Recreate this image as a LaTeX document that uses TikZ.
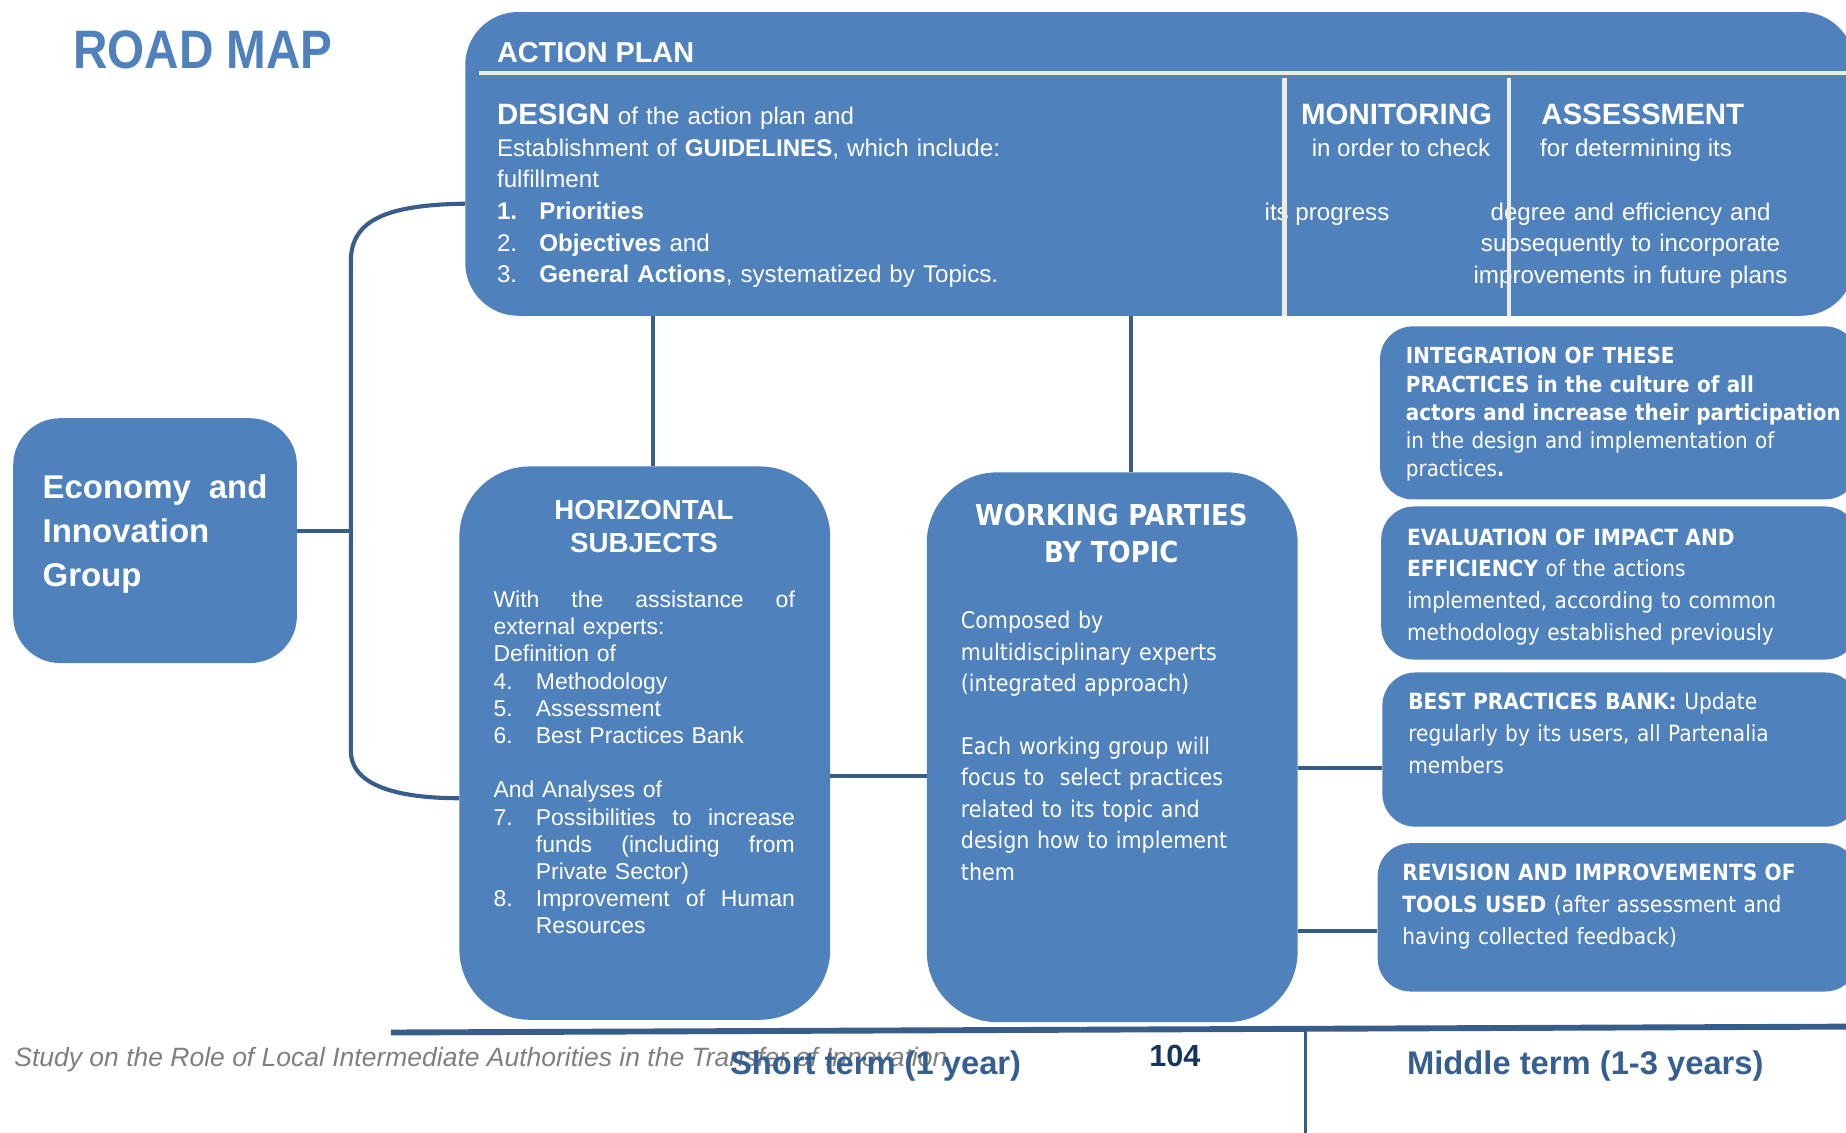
\documentclass[tikz,border=0pt]{standalone}
\usepackage{fontspec}
\setmainfont{Liberation Sans}
\newfontfamily\gothic[FakeStretch=0.9]{DejaVu Sans}
\newfontfamily\narrowsans[FakeStretch=0.88]{Liberation Sans}
\usepackage{tikz}

\definecolor{boxblue}{RGB}{79,129,189}
\definecolor{lineblue}{RGB}{56,93,138}
\definecolor{cream}{RGB}{238,236,225}
\definecolor{termblue}{RGB}{54,95,145}
\definecolor{navy}{RGB}{23,54,93}
\definecolor{footgray}{RGB}{127,127,127}

\newcommand{\setfsz}[2]{\fontsize{#1}{#2}\selectfont}

\tikzset{
  panel/.style={fill=boxblue, inner sep=0pt, anchor=north west},
  conn/.style={draw=lineblue, line width=3.5pt},
  divider/.style={draw=cream, line width=3.5pt},
  txt/.style={anchor=base west, inner sep=0pt, text=white, align=left},
}

\begin{document}
\begin{tikzpicture}[x=1pt,y=-1pt]
\useasboundingbox (0,0) rectangle (1568,962);
\clip (0,0) rectangle (1568,962);

%Shape: Rounded boxes
\node[panel, rounded corners=45pt, minimum width=1180pt, minimum height=258pt] (ap) at (395,10) {};
\node[panel, rounded corners=40pt, minimum width=241pt, minimum height=208pt] (eco) at (11,355) {};
\node[panel, rounded corners=60pt, minimum width=315pt, minimum height=470pt] (hs) at (390,396) {};
\node[panel, rounded corners=60pt, minimum width=315pt, minimum height=467pt] (wp) at (787,401) {};
\node[panel, rounded corners=28pt, minimum width=406pt, minimum height=147pt] (integ) at (1172,277) {};
\node[panel, rounded corners=28pt, minimum width=405pt, minimum height=130pt] (evalu) at (1173,430) {};
\node[panel, rounded corners=28pt, minimum width=404pt, minimum height=131pt] (bank) at (1174,571) {};
\node[panel, rounded corners=28pt, minimum width=408pt, minimum height=126pt] (revis) at (1170,716) {};

%Connector end points
\coordinate (brk) at (298,451);
\coordinate (apin) at (395,173);
\coordinate (hsin) at (390,678);
\coordinate (hstop) at (555,396);
\coordinate (wptop) at (961,401);
\coordinate (hwmid) at (746,659);
\coordinate (bankmid) at (1138,652);
\coordinate (revmid) at (1136,791);

%Straight Lines
\draw[conn] (eco.east |- brk) -- (brk);
\draw[conn] (apin) .. controls (330,174) and (298,186) .. (298,222) -- (298,638) .. controls (298,664) and (330,678) .. (hsin);
\draw[conn] (ap.south -| hstop) -- (hstop);
\draw[conn] (ap.south -| wptop) -- (wptop);
\draw[conn] (hs.east |- hwmid) -- (wp.west |- hwmid);
\draw[conn] (wp.east |- bankmid) -- (bank.west |- bankmid);
\draw[conn] (wp.east |- revmid) -- (revis.west |- revmid);

% Text Node
\node[txt, text=boxblue, font=\narrowsans\setfsz{46}{50}\bfseries] (title) at (62,58) {ROAD MAP};
% Text Node
\node[txt, font=\setfsz{24.5}{28}\bfseries] (aptitle) at (422,53) {ACTION PLAN};
% Text Node
\node[txt, text width=640pt, font=\setfsz{20.5}{26.8}] (design) at (422,106)
  {{\setfsz{25}{26.8}\textbf{DESIGN}} of the action plan and\\
   Establishment of \textbf{GUIDELINES}, which include:\\
   fulfillment\\
   \makebox[36pt][l]{\textbf{1.}}\textbf{Priorities}\\
   \makebox[36pt][l]{2.}\textbf{Objectives} and\\
   \makebox[36pt][l]{3.}\textbf{General Actions}, systematized by Topics.};
% Text Node
\node[txt, font=\setfsz{25}{26.8}\bfseries] (monit) at (1105,106) {MONITORING};
\node[txt, font=\setfsz{20.5}{26.8}] (monit2) at (1114,133) {in order to check};
\node[txt, font=\setfsz{20.5}{26.8}] (monit3) at (1074,187) {its progress};
% Text Node
\node[txt, font=\setfsz{25}{26.8}\bfseries] (assess) at (1309,106) {ASSESSMENT};
\node[txt, font=\setfsz{20.5}{26.8}] (assess2) at (1308,133) {for determining its};
\node[txt, anchor=base, text width=300pt, align=center, font=\setfsz{20.5}{26.8}] (assess3) at (1385,187)
  {degree and efficiency and\\ subsequently to incorporate\\ improvements in future plans};

%Straight Lines
\draw[divider] (407,62) -- (1568,62);
\draw[divider] (1091,66) -- (1091,268);
\draw[divider] (1282,66) -- (1282,268);

% Text Node
\node[txt, text width=200pt, font=\setfsz{28}{37.5}\bfseries] (ecotext) at (36,423)
  {\makebox[191pt]{Economy\hfill and}\\ Innovation\\ Group};
% Text Node
\node[txt, anchor=base, text width=300pt, align=center, font=\setfsz{23.5}{28}\bfseries] (hstitle) at (547,441)
  {HORIZONTAL\\ SUBJECTS};
% Text Node
\node[txt, text width=260pt, font=\setfsz{19.5}{23.1}] (hsbody) at (419,516)
  {\makebox[256pt]{With\hfill the\hfill assistance\hfill of}\\
   external experts:\\
   Definition of\\
   \makebox[36pt][l]{4.}Methodology\\
   \makebox[36pt][l]{5.}Assessment\\
   \makebox[36pt][l]{6.}Best Practices Bank\\
   \mbox{}\\
   And Analyses of\\
   \makebox[36pt][l]{7.}\makebox[220pt]{Possibilities\hfill to\hfill increase}\\
   \hspace*{36pt}\makebox[220pt]{funds\hfill (including\hfill from}\\
   \hspace*{36pt}Private Sector)\\
   \makebox[36pt][l]{8.}\makebox[220pt]{Improvement\hfill of\hfill Human}\\
   \hspace*{36pt}Resources};
% Text Node
\node[txt, anchor=base, text width=300pt, align=center, font=\gothic\setfsz{24.5}{32}\bfseries] (wptitle) at (944,446)
  {WORKING PARTIES\\ BY TOPIC};
% Text Node
\node[txt, text width=270pt, font=\gothic\setfsz{19.5}{26.7}] (wpbody) at (816,534)
  {Composed by\\
   multidisciplinary experts\\
   (integrated approach)\\
   \mbox{}\\
   Each working group will\\
   focus to~ select practices\\
   related to its topic and\\
   design how to implement\\
   them};
% Text Node
\node[txt, text width=400pt, font=\gothic\setfsz{18.8}{24}] (integtext) at (1194,309)
  {\textbf{INTEGRATION OF THESE}\\
   \textbf{PRACTICES in the culture of all}\\
   \textbf{actors and increase their participation}\\
   in the design and implementation of\\
   practices\textbf{.}};
% Text Node
\node[txt, text width=400pt, font=\gothic\setfsz{19}{27}] (evaltext) at (1195,463)
  {\textbf{EVALUATION OF IMPACT AND}\\
   \textbf{EFFICIENCY} of the actions\\
   implemented, according to common\\
   methodology established previously};
% Text Node
\node[txt, text width=400pt, font=\gothic\setfsz{19}{27}] (banktext) at (1196,603)
  {\textbf{BEST PRACTICES BANK:} Update\\
   regularly by its users, all Partenalia\\
   members};
% Text Node
\node[txt, text width=400pt, font=\gothic\setfsz{19}{27}] (revtext) at (1191,748)
  {\textbf{REVISION AND IMPROVEMENTS OF}\\
   \textbf{TOOLS USED} (after assessment and\\
   having collected feedback)};

%Straight Lines
\coordinate (axisl) at (332,877);
\coordinate (axisr) at (1568,872);
\coordinate (axismid) at (1109,876);
\coordinate (axisbot) at (1109,962);
\draw[draw=lineblue, line width=5pt] (axisl) -- (axisr);
\draw[draw=lineblue, line width=3pt] (axismid) -- (axisbot);

% Text Node
\node[txt, text=footgray, font=\setfsz{22.5}{26}\itshape] (footer) at (12,906)
  {Study on the Role of Local Intermediate Authorities in the Transfer of Innovation};
% Text Node
\node[txt, text=termblue, font=\setfsz{27.8}{30}\bfseries] (shortterm) at (620,913) {Short term (1 year)};
% Text Node
\node[txt, text=navy, font=\setfsz{26}{30}\bfseries] (pagenum) at (976,906) {104};
% Text Node
\node[txt, text=termblue, font=\setfsz{27.8}{30}\bfseries] (midterm) at (1195,913) {Middle term (1-3 years)};

\end{tikzpicture}
\end{document}
